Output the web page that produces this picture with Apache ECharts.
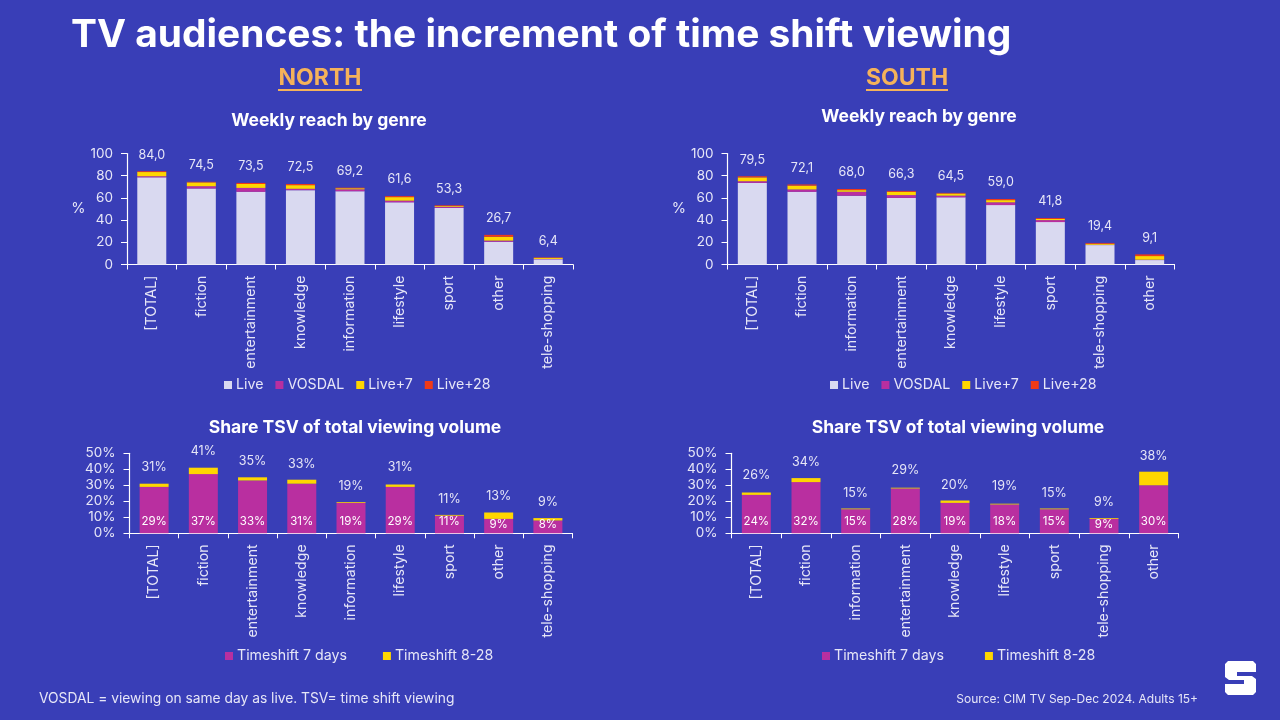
<!DOCTYPE html>
<html>
<head>
<meta charset="utf-8">
<style>
  html, body { margin: 0; padding: 0; background: #393eb7; }
  #chart { width: 1280px; height: 720px; }
</style>
<script src="https://cdn.jsdelivr.net/npm/echarts@6/dist/echarts.min.js"></script>
</head>
<body>
<div id="chart"></div>
<script>
// genres, each side has its own order
const northGenres = ['[TOTAL]', 'fiction', 'entertainment', 'knowledge', 'information', 'lifestyle', 'sport', 'other', 'tele-shopping']
const southGenres = ['[TOTAL]', 'fiction', 'information', 'entertainment', 'knowledge', 'lifestyle', 'sport', 'tele-shopping', 'other']

// weekly reach, north
const northLive = [78.5, 68.5, 65.5, 67, 66, 56, 51, 20.5, 4.7]
const northVosdal = [1, 2, 3.5, 1.2, 1.7, 1.5, 1, 1, 0.3]
const northPlus7 = [3.8, 3.5, 3.5, 3.3, 1, 3.2, 0.7, 3.5, 1]
const northPlus28 = [0.7, 0.5, 1, 1, 0.5, 0.9, 0.6, 1.7, 0.4]
const northReach = [84.0, 74.5, 73.5, 72.5, 69.2, 61.6, 53.3, 26.7, 6.4]

// weekly reach, south
const southLive = [73.5, 65.5, 62, 60, 60.5, 53.5, 38.2, 17.5, 4]
const southVosdal = [1.5, 2.1, 3.5, 2.5, 1.5, 2.5, 1.8, 0.2, 0.3]
const southPlus7 = [3.5, 3.5, 1.5, 3, 2, 2, 1, 1, 3.3]
const southPlus28 = [1, 1, 1, 0.8, 0.5, 1, 0.8, 0.7, 1.5]
const southReach = [79.5, 72.1, 68.0, 66.3, 64.5, 59.0, 41.8, 19.4, 9.1]

// share of time shift viewing
const northShift7 = [29, 37, 33, 31, 19, 29, 11, 9, 8]
const northShift28 = [2, 4, 2, 2.5, 0.5, 1.5, 0.5, 4, 1.5]
const northShare = [31, 41, 35, 33, 19, 31, 11, 13, 9]
const southShift7 = [24, 32, 15, 28, 19, 18, 15, 9, 30]
const southShift28 = [1.5, 2.5, 0.5, 0.5, 1.5, 0.5, 0.5, 0.5, 8.5]
const southShare = [26, 34, 15, 29, 20, 19, 15, 9, 38]

const FONT = 'Inter'
const BG = '#393eb7'
const TEXT = '#e6e6f7'
const COLORS = { live: '#d9d9f0', vosdal: '#b92fa0', plus7: '#ffd600', plus28: '#f03a17' }

const grids = [
  { left: 127, right: 707, top: 153.5, height: 111 },
  { left: 727.5, right: 105.5, top: 153.5, height: 111 },
  { left: 129.5, right: 707.5, top: 453.3, height: 80 },
  { left: 731.5, right: 101.5, top: 453.3, height: 80 }
]

function xAxis(gridIndex, genres) {
  return {
    type: 'category', gridIndex, data: genres,
    axisLine: { lineStyle: { color: '#fff', width: 1.2 } },
    axisTick: { show: true, length: 5, lineStyle: { color: '#fff' } },
    axisLabel: { rotate: 90, interval: 0, margin: 11, padding: [4, 0, 0, 0], color: TEXT, fontFamily: FONT, fontSize: 14.2 }
  }
}

function yAxis(gridIndex, max, interval, fmt, name) {
  return {
    type: 'value', gridIndex, min: 0, max, interval,
    name, nameLocation: 'middle', nameGap: 41, nameRotate: 0,
    nameTextStyle: { color: TEXT, fontFamily: FONT, fontSize: 14.5, padding: [3, 0, 0, 0] },
    splitLine: { show: false },
    axisLine: { show: true, lineStyle: { color: '#fff', width: 1.2 } },
    axisTick: { show: true, length: 6, lineStyle: { color: '#fff' } },
    axisLabel: { formatter: fmt, margin: 14, color: TEXT, fontFamily: FONT, fontSize: 13.5 }
  }
}

function bar(name, idx, values, color, extra) {
  return Object.assign({
    type: 'bar', name, xAxisIndex: idx, yAxisIndex: idx, stack: 's' + idx,
    data: values, barWidth: 29, itemStyle: { color }
  }, extra)
}

// invisible line, it only carries the total above each bar
function totals(idx, values, fmt) {
  return {
    type: 'line', name: 'total' + idx, xAxisIndex: idx, yAxisIndex: idx, data: values,
    symbolSize: 0, showSymbol: true, showAllSymbol: true, lineStyle: { width: 0 }, silent: true,
    label: {
      show: true, position: 'top', distance: 10, formatter: fmt,
      color: TEXT, fontFamily: FONT, fontSize: 12.5
    }
  }
}

const commaValue = p => p.value.toFixed(1).replace('.', ',')
const pctValue = p => p.value + '%'

const shiftLabel = {
  show: true, position: 'insideBottom', distance: 6, formatter: pctValue,
  color: '#fff', fontFamily: FONT, fontSize: 11.5
}

// labels of the shortest bars sit a bit lower
function lowLabels(values) {
  return values.map(v => v < 10 ? { value: v, label: { offset: [0, 3] } } : v)
}

function legend(left, top, names, gap) {
  return {
    left, top, data: names, itemWidth: 8, itemHeight: 8, itemGap: gap, icon: 'rect',
    selectedMode: false, padding: 0,
    textStyle: { color: TEXT, fontFamily: FONT, fontSize: 14.2, padding: [0, 0, 0, -1] }
  }
}

function title(text, x, y, size, color) {
  return {
    text, left: x, top: y, padding: 0, textAlign: 'center', textVerticalAlign: 'middle',
    textStyle: { color, fontFamily: FONT, fontSize: size, fontWeight: 'bold' }
  }
}

function note(text, size, pos) {
  return Object.assign({
    text, padding: 0,
    textStyle: { color: TEXT, fontFamily: FONT, fontSize: size, fontWeight: 'normal' }
  }, pos)
}

const reachNames = ['Live', 'VOSDAL', 'Live+7', 'Live+28']
const shiftNames = ['Timeshift 7 days', 'Timeshift 8-28']

const option = {
  backgroundColor: BG,
  animation: false,
  grid: grids,
  title: [
    { text: 'TV audiences: the increment of time shift viewing', left: 71, top: 16, padding: 0,
      textStyle: { color: '#fff', fontFamily: FONT, fontSize: 38.9, fontWeight: 'bold' } },
    title('NORTH', 320, 78, 23, '#f5b25a'),
    title('SOUTH', 907, 78, 23, '#f5b25a'),
    title('Weekly reach by genre', 329, 121, 17.5, '#fff'),
    title('Weekly reach by genre', 919, 117, 17.5, '#fff'),
    title('Share TSV of total viewing volume', 355, 428, 17.5, '#fff'),
    title('Share TSV of total viewing volume', 958, 428, 17.5, '#fff'),
    note('VOSDAL = viewing on same day as live. TSV= time shift viewing', 13.8, { left: 39, top: 692 }),
    note('Source: CIM TV Sep-Dec 2024. Adults 15+', 12, { right: 82, top: 693 })
  ],
  legend: [
    legend(224, 378, reachNames, 12),
    legend(830, 378, reachNames, 12),
    legend(225, 649, shiftNames, 36),
    legend(822, 649, shiftNames, 41)
  ],
  xAxis: [xAxis(0, northGenres), xAxis(1, southGenres), xAxis(2, northGenres), xAxis(3, southGenres)],
  yAxis: [
    yAxis(0, 100, 20, '{value}', '%'),
    yAxis(1, 100, 20, '{value}', '%'),
    yAxis(2, 50, 10, '{value}%'),
    yAxis(3, 50, 10, '{value}%')
  ],
  series: [
    bar('Live', 0, northLive, COLORS.live),
    bar('VOSDAL', 0, northVosdal, COLORS.vosdal),
    bar('Live+7', 0, northPlus7, COLORS.plus7),
    bar('Live+28', 0, northPlus28, COLORS.plus28),
    totals(0, northReach, commaValue),
    bar('Live', 1, southLive, COLORS.live),
    bar('VOSDAL', 1, southVosdal, COLORS.vosdal),
    bar('Live+7', 1, southPlus7, COLORS.plus7),
    bar('Live+28', 1, southPlus28, COLORS.plus28),
    totals(1, southReach, commaValue),
    bar('Timeshift 7 days', 2, lowLabels(northShift7), COLORS.vosdal, { label: shiftLabel }),
    bar('Timeshift 8-28', 2, northShift28, COLORS.plus7),
    totals(2, northShare, pctValue),
    bar('Timeshift 7 days', 3, lowLabels(southShift7), COLORS.vosdal, { label: shiftLabel }),
    bar('Timeshift 8-28', 3, southShift28, COLORS.plus7),
    totals(3, southShare, pctValue)
  ],
  graphic: [
    // underlines of NORTH / SOUTH
    { type: 'rect', shape: { x: 278, y: 89, width: 84, height: 2 }, style: { fill: '#f5b25a' } },
    { type: 'rect', shape: { x: 866, y: 89, width: 82, height: 2 }, style: { fill: '#f5b25a' } },
    // logo
    { type: 'polygon', x: 1225, y: 661,
      shape: { points: [[3, 0], [28, 0], [31, 3], [31, 11], [12, 11], [12, 15], [27, 15], [31, 18], [31, 31], [28, 34], [3, 34], [0, 31], [0, 23], [19, 23], [19, 19], [4, 19], [0, 16], [0, 3]] },
      style: { fill: '#fff' } }
  ]
}

const chart = echarts.init(document.getElementById('chart'))
chart.setOption(option)
</script>
</body>
</html>
